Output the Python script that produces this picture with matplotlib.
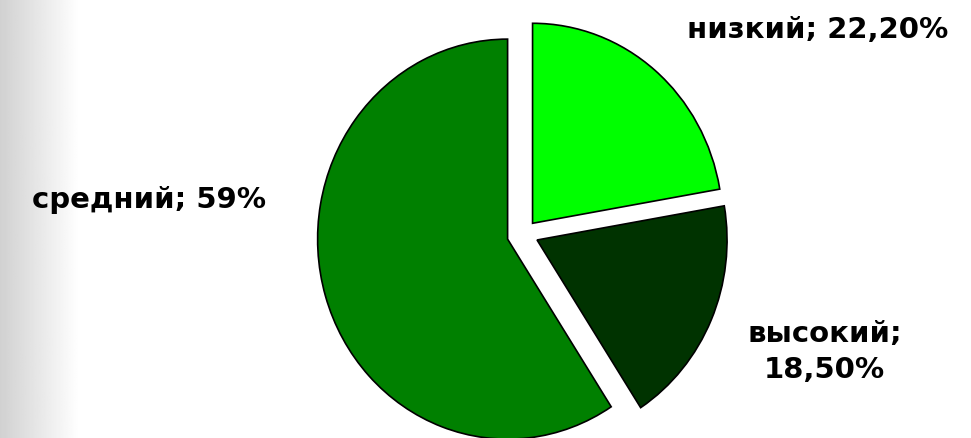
import numpy as np
import matplotlib
matplotlib.use("Agg")
import matplotlib.pyplot as plt

# levels, clockwise from 12 o'clock
levels = ["низкий", "высокий", "средний"]
shares = [22.2, 18.5, 59]
colors = ["#00ff00", "#003300", "#008000"]
explode = [0.07, 0.075, 0.09]


def pct_label(v):
    if float(v).is_integer():
        return f"{int(v)}%"
    return f"{v:.2f}%".replace(".", ",")


plt.rcParams["font.family"] = ["DejaVu Sans"]

W, H = 971, 439
fig = plt.figure(figsize=(W / 100, H / 100), dpi=100)

# soft grey shade along the left edge
bg = fig.add_axes([0, 0, 1, 1], zorder=0)
ramp = np.clip(np.linspace(0, 1, W) / (78 / W), 0, 1)
shade = 0.82 + 0.18 * ramp
bg.imshow(np.tile(shade, (2, 1)), cmap="gray", vmin=0, vmax=1,
          aspect="auto", extent=[0, 1, 0, 1])
bg.set_axis_off()

ax = fig.add_axes([0, 0, 1, 1], zorder=1)
ax.patch.set_alpha(0)
wedges, _ = ax.pie(shares, colors=colors, explode=explode,
                   startangle=90, counterclock=False,
                   wedgeprops=dict(edgecolor="black", linewidth=1.2))

# centre of the pie sits right of middle, slightly squashed horizontally
cx, cy, rx, ry = 524, 235, 190, 200
ax.set_aspect("auto")
ax.set_xlim(-cx / rx, (W - cx) / rx)
ax.set_ylim(-(H - cy) / ry, cy / ry)
ax.set_axis_off()

txt = dict(fontsize=21, fontweight="bold", color="black",
           transform=fig.transFigure, ha="center", va="center")
ax.text(0.842, 0.932, f"{levels[0]}; {pct_label(shares[0])}", **txt)
ax.text(0.849, 0.198, f"{levels[1]};\n{pct_label(shares[1])}",
        linespacing=1.35, **txt)
ax.text(0.153, 0.544, f"{levels[2]}; {pct_label(shares[2])}", **txt)

fig.savefig("out.png", dpi=100)
